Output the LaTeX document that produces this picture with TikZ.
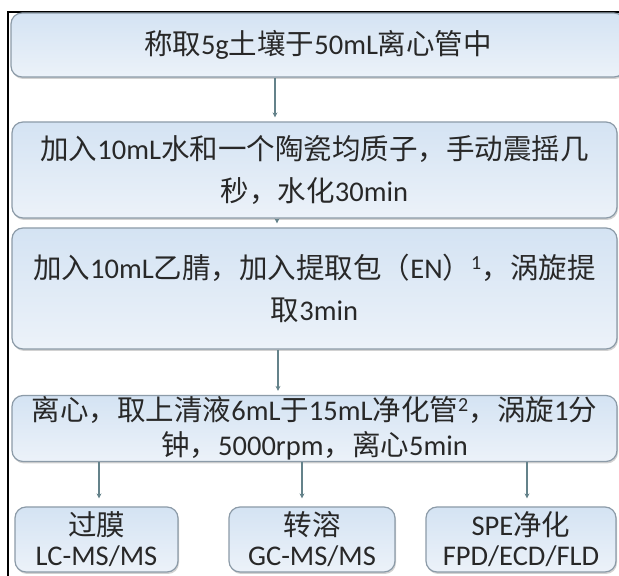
\documentclass[tikz,border=0pt]{standalone}
\usepackage{fontspec}
\setmainfont{Carlito}
\newfontfamily\cjk{Noto Sans CJK SC}
\usetikzlibrary{shadows,arrows.meta}
\definecolor{boxline}{RGB}{140,155,168}
\definecolor{boxtop}{RGB}{212,227,243}
\definecolor{boxbot}{RGB}{236,242,249}
\definecolor{arrcol}{RGB}{100,130,138}
\definecolor{txt}{RGB}{40,40,40}
\newcommand{\zh}[1]{{\cjk #1}}
\tikzset{
  flowbox/.style={draw=boxline, line width=1.2pt, rounded corners=11pt,
    top color=boxtop, bottom color=boxbot, text=txt, align=center,
    inner sep=0pt, font=\fontsize{28.5}{42}\selectfont,
    drop shadow={shadow xshift=1pt, shadow yshift=-2pt, opacity=0.35}},
  arr/.style={draw=arrcol, line width=1.6pt, -{Stealth[length=5pt,width=5pt]}, shorten >=4pt}
}
\begin{document}
\begin{tikzpicture}[x=1pt,y=1pt]
\useasboundingbox (0,0) rectangle (619,576);
\fill[white] (0,0) rectangle (619,576);
% outer frame
\draw[black, line width=2pt] (8,0) -- (8,564) -- (625,564);
% main boxes (y = 576 - ypx)
\node[flowbox, minimum width=614pt, minimum height=64pt] (b1) at (318,531)
  {\zh{称取}5g\zh{土壤于}50mL\zh{离心管中}};
\node[flowbox, minimum width=605pt, minimum height=96pt] (b2) at (314.5,406)
  {\zh{加入}10mL\zh{水和一个陶瓷均质子，手动震摇几}\\\zh{秒，水化}30min};
\node[flowbox, minimum width=605pt, minimum height=121pt] (b3) at (314.5,287.5)
  {\zh{加入}10mL\zh{乙腈，加入提取包（}EN\zh{）}\textsuperscript{1}\zh{，涡旋提}\\\zh{取}3min};
\node[flowbox, minimum width=605pt, minimum height=66pt, font=\fontsize{28.5}{35}\selectfont] (b4) at (314.5,147.5)
  {\zh{离心，取上清液}6mL\zh{于}15mL\zh{净化管}\textsuperscript{2}\zh{，涡旋}1\zh{分}\\\zh{钟，}5000rpm\zh{，离心}5min};
\node[flowbox, minimum width=163pt, minimum height=65pt, font=\fontsize{28.5}{30}\selectfont] (c1) at (96.5,36.5)
  {\zh{过膜}\\LC-MS/MS};
\node[flowbox, minimum width=166pt, minimum height=65pt, font=\fontsize{28.5}{30}\selectfont] (c2) at (312,36.5)
  {\zh{转溶}\\GC-MS/MS};
\node[flowbox, minimum width=190pt, minimum height=65pt, font=\fontsize{28.5}{30}\selectfont] (c3) at (521,36.5)
  {SPE\zh{净化}\\FPD/ECD/FLD};
% arrow columns
\coordinate (a1) at (275,0);
\coordinate (a2) at (277,0);
\coordinate (a3) at (278,0);
\coordinate (d1) at (99,0);
\coordinate (d2) at (302,0);
\coordinate (d3) at (527,0);
\draw[arr] (b1.south -| a1) -- (b2.north -| a1);
\draw[arr] (b2.south -| a2) -- (b3.north -| a2);
\draw[arr] (b3.south -| a3) -- (b4.north -| a3);
\draw[arr, shorten >=8pt] (b4.south -| d1) -- (c1.north -| d1);
\draw[arr, shorten >=8pt] (b4.south -| d2) -- (c2.north -| d2);
\draw[arr, shorten >=8pt] (b4.south -| d3) -- (c3.north -| d3);
\end{tikzpicture}
\end{document}
